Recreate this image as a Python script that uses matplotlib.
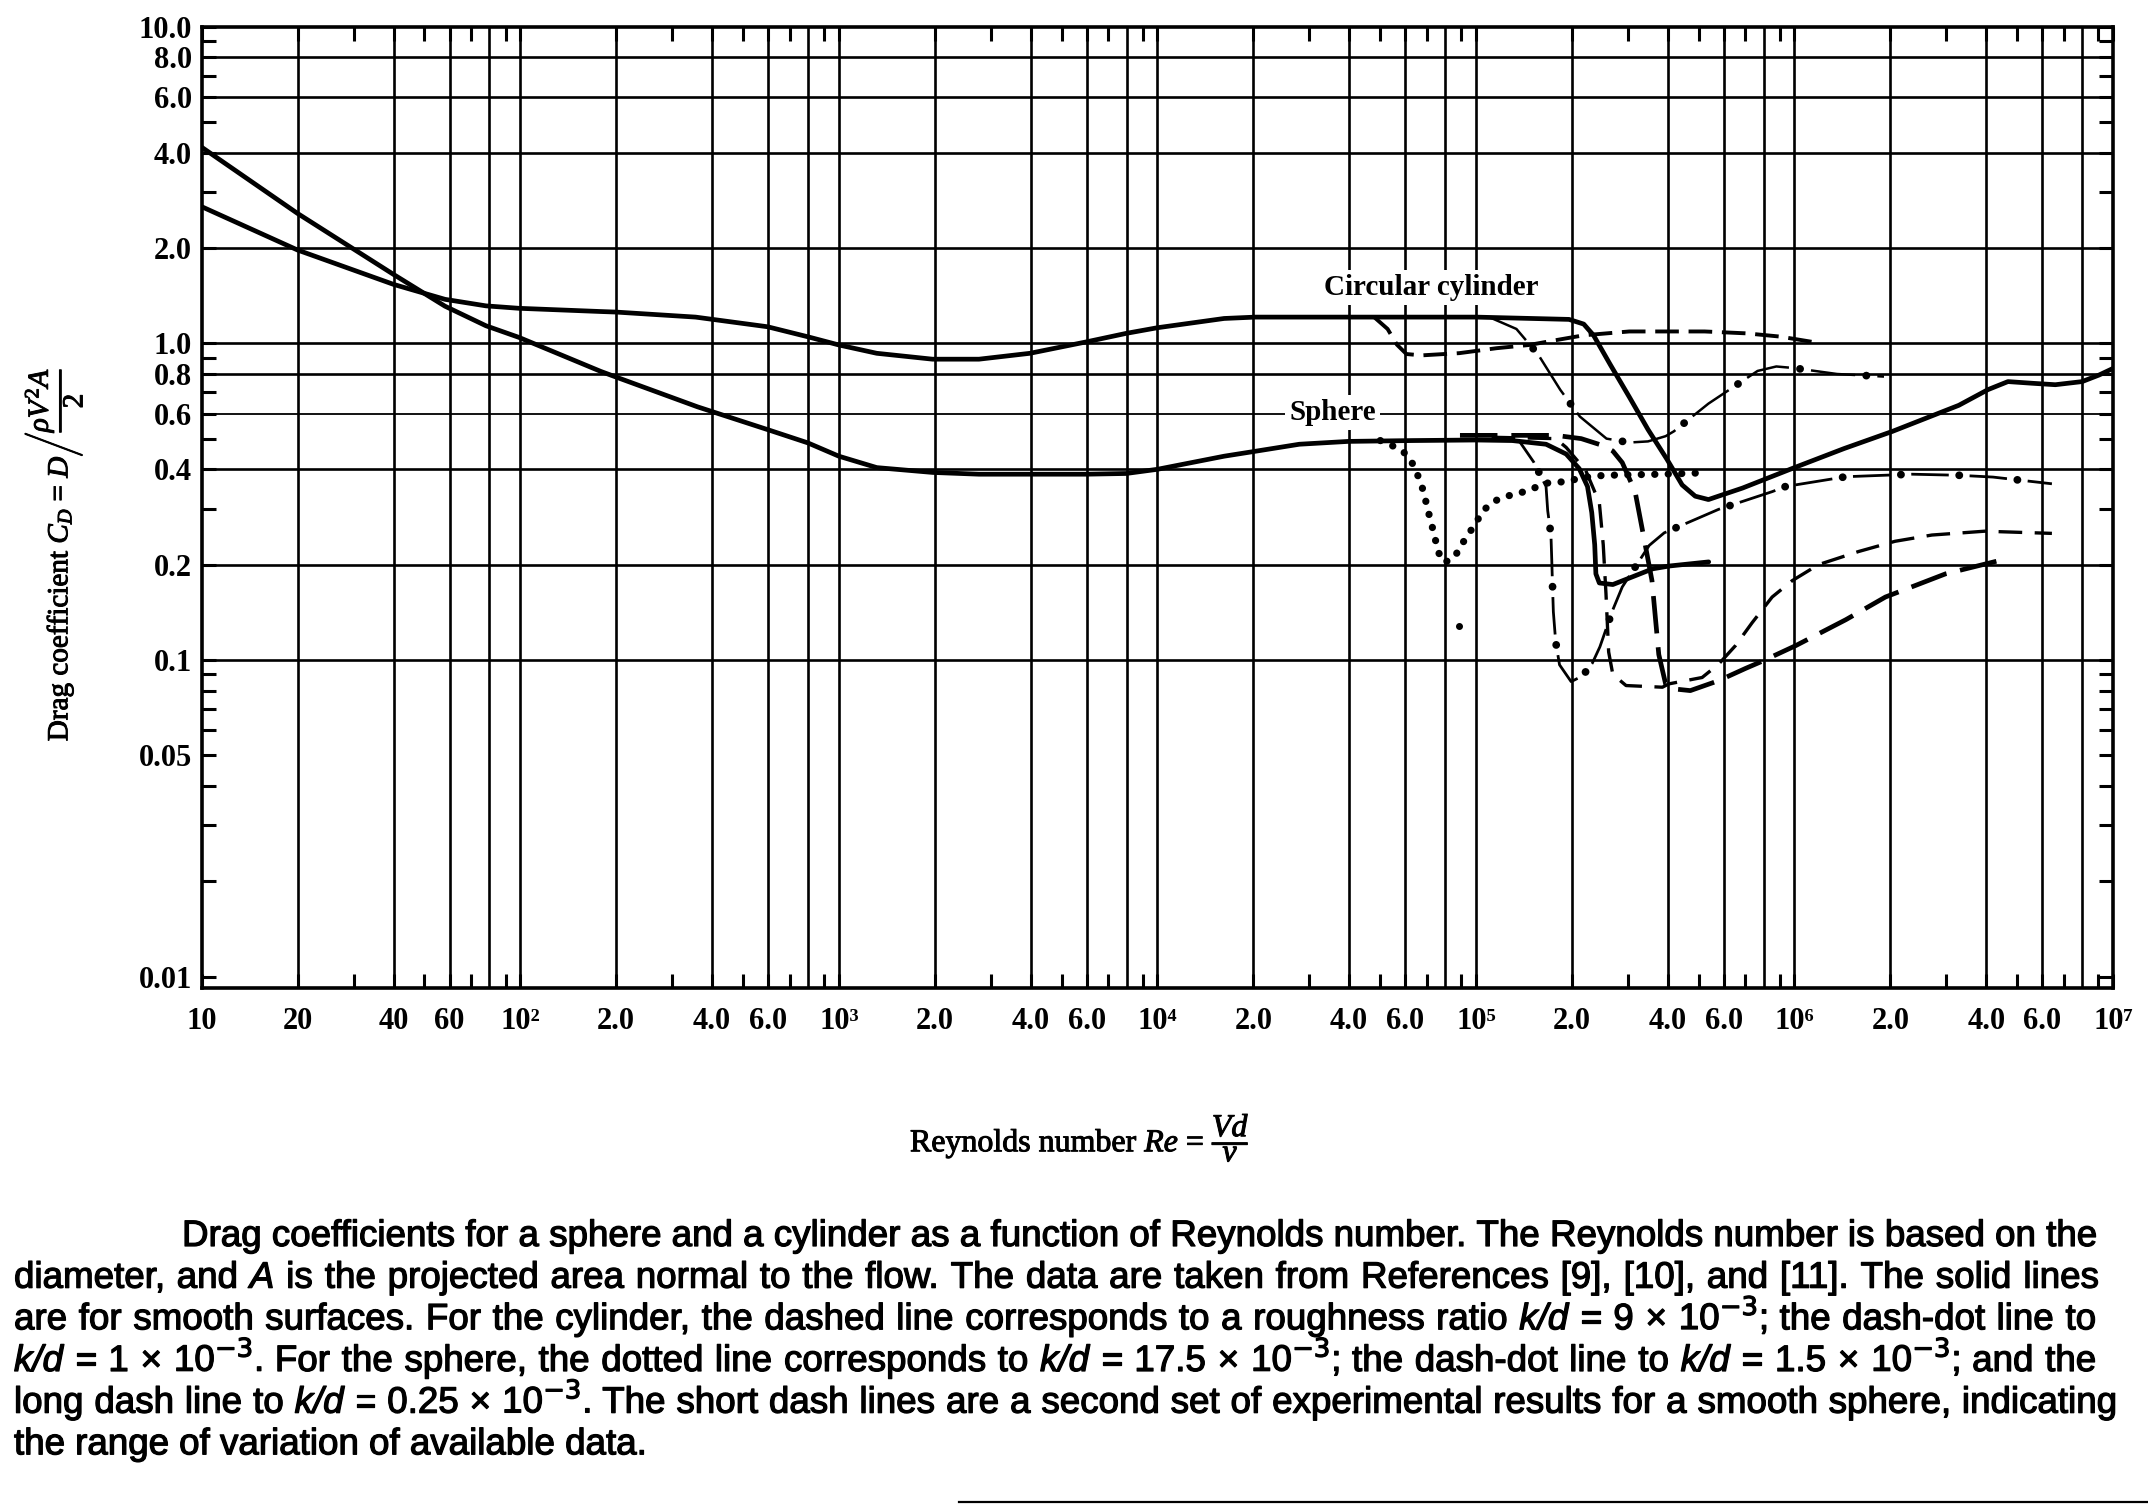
import matplotlib
matplotlib.use('Agg')
import matplotlib.pyplot as plt
from matplotlib.lines import Line2D
from matplotlib.ticker import NullFormatter, FixedLocator
from matplotlib import patheffects

plt.rcParams['mathtext.fontset'] = 'custom'
plt.rcParams['mathtext.rm'] = 'Liberation Serif'
plt.rcParams['mathtext.it'] = 'Liberation Serif:italic'
plt.rcParams['mathtext.bf'] = 'Liberation Serif:bold'
plt.rcParams['lines.scale_dashes'] = False

SERIF = ['Liberation Serif', 'DejaVu Serif']
SANS = ['Liberation Sans', 'DejaVu Sans']

# ---------------- data (Reynolds number, drag coefficient) ----------------
cyl_smooth_re = [10, 20, 40, 58, 78, 99, 179, 200, 355, 597, 798, 1000, 1315, 1968, 2754,
                 3981, 5970, 7980, 1.0e4, 1.62e4, 2.03e4, 3.98e4, 1.0e5, 1.96e5, 2.18e5,
                 2.34e5, 2.64e5, 3.03e5, 3.47e5, 3.98e5, 4.44e5, 4.88e5, 5.37e5, 5.98e5,
                 6.87e5, 1.0e6, 1.43e6, 2.03e6, 3.28e6, 4.05e6, 4.68e6, 5.56e6, 6.59e6,
                 8.0e6, 9.04e6, 1.0e7]
cyl_smooth_cd = [2.70, 1.97, 1.535, 1.377, 1.313, 1.29, 1.26, 1.255, 1.21, 1.128, 1.049,
                 0.988, 0.93, 0.891, 0.891, 0.93, 1.01, 1.075, 1.12, 1.198, 1.21, 1.21,
                 1.21, 1.19, 1.15, 1.06, 0.857, 0.677, 0.534, 0.43, 0.357, 0.329, 0.321,
                 0.333, 0.349, 0.405, 0.465, 0.527, 0.637, 0.714, 0.757, 0.748, 0.74,
                 0.757, 0.794, 0.833]

cyl_dash_re = [4.79e4, 5.28e4, 5.65e4, 6.05e4, 6.75e4, 8.87e4, 1.16e5, 1.47e5, 1.75e5,
               2.18e5, 3.03e5, 5.22e5, 7.08e5, 9.02e5, 1.14e6]
cyl_dash_cd = [1.21, 1.11, 0.99, 0.925, 0.916, 0.931, 0.965, 0.988, 1.02, 1.06, 1.09,
               1.09, 1.075, 1.05, 1.01]

cyl_dashdot_re = [1.10e5, 1.34e5, 1.57e5, 1.84e5, 2.12e5, 2.57e5, 3.03e5, 3.47e5, 3.94e5,
                  4.18e5, 5.37e5, 7.66e5, 8.77e5, 1.0e6, 1.36e6, 1.91e6]
cyl_dashdot_cd = [1.21, 1.11, 0.92, 0.713, 0.587, 0.50, 0.486, 0.49, 0.509, 0.527, 0.645,
                  0.818, 0.845, 0.835, 0.80, 0.785]

sph_smooth_re = [10, 20, 40, 58, 78, 99, 179, 200, 360, 597, 798, 1000, 1315, 1968, 2754,
                 3981, 5970, 7980, 1.0e4, 1.62e4, 2.0e4, 2.79e4, 3.98e4, 6.31e4, 1.0e5,
                 1.30e5, 1.66e5, 1.92e5, 2.11e5, 2.24e5, 2.31e5, 2.36e5, 2.38e5, 2.44e5,
                 2.69e5, 3.10e5, 3.59e5, 4.05e5, 5.38e5]
sph_smooth_cd = [4.16, 2.57, 1.65, 1.31, 1.136, 1.044, 0.815, 0.782, 0.63, 0.534, 0.485,
                 0.44, 0.405, 0.391, 0.386, 0.386, 0.386, 0.388, 0.40, 0.44, 0.455, 0.48,
                 0.49, 0.493, 0.495, 0.493, 0.48, 0.447, 0.402, 0.353, 0.292, 0.231,
                 0.187, 0.175, 0.173, 0.183, 0.194, 0.198, 0.204]

sph_short_re = [1.12e5, 1.78e5, 1.92e5, 2.21e5, 2.44e5, 2.51e5, 2.56e5, 2.61e5, 2.69e5,
                2.96e5, 3.85e5, 4.03e5, 5.13e5, 5.78e5, 6.53e5, 7.36e5, 8.51e5, 9.84e5,
                1.19e6, 1.59e6, 2.07e6, 2.70e6, 3.95e6, 6.43e6]
sph_short_cd = [0.505, 0.50, 0.469, 0.397, 0.314, 0.231, 0.162, 0.106, 0.090, 0.083, 0.082,
                0.084, 0.088, 0.097, 0.111, 0.131, 0.158, 0.178, 0.200, 0.220, 0.237,
                0.248, 0.255, 0.251]

sph_long_re = [8.91e4, 1.78e5, 2.14e5, 2.51e5, 2.69e5, 2.88e5, 3.16e5, 3.40e5, 3.57e5,
               3.75e5, 3.94e5, 4.18e5, 4.71e5, 5.78e5, 7.02e5, 7.91e5, 1.01e6, 1.45e6,
               1.93e6, 2.98e6, 4.31e6]
sph_long_cd = [0.512, 0.512, 0.50, 0.475, 0.457, 0.42, 0.34, 0.231, 0.178, 0.104, 0.084,
               0.081, 0.080, 0.086, 0.094, 0.099, 0.111, 0.134, 0.158, 0.187, 0.205]

sph_dashdot_re = [1.26e5, 1.37e5, 1.52e5, 1.66e5, 1.68e5, 1.72e5, 1.73e5, 1.74e5, 1.75e5,
                  1.78e5, 1.83e5, 1.99e5, 2.16e5, 2.32e5, 2.45e5, 2.69e5, 2.88e5, 3.50e5,
                  3.90e5, 5.78e5, 8.51e5, 9.38e5, 1.45e6, 2.34e6, 3.28e6, 4.20e6, 6.43e6]
sph_dashdot_cd = [0.495, 0.49, 0.421, 0.353, 0.296, 0.248, 0.207, 0.170, 0.142, 0.114,
                  0.0965, 0.0854, 0.089, 0.0977, 0.110, 0.144, 0.170, 0.23, 0.252, 0.299,
                  0.340, 0.353, 0.379, 0.386, 0.383, 0.378, 0.36]

sph_dotted_re = [5.01e4, 5.35e4, 5.89e4, 6.25e4, 6.52e4, 6.76e4, 6.93e4, 7.10e4, 7.28e4,
                 7.45e4, 7.62e4, 7.94e4, 8.55e4, 8.93e4, 9.46e4, 1.0e5, 1.05e5, 1.13e5,
                 1.25e5, 1.38e5, 1.52e5, 1.68e5, 1.86e5, 2.06e5, 2.32e5, 2.82e5, 3.85e5,
                 5.25e5]
sph_dotted_cd = [0.493, 0.48, 0.457, 0.427, 0.39, 0.355, 0.323, 0.292, 0.265, 0.241, 0.219,
                 0.203, 0.21, 0.228, 0.249, 0.271, 0.295, 0.316, 0.329, 0.337, 0.349,
                 0.362, 0.365, 0.372, 0.381, 0.384, 0.386, 0.39]

stray_dot_re = [8.83e4]
stray_dot_cd = [0.128]

# axis ticks
x_grid = [m * 10 ** d for d in range(1, 7) for m in (1, 2, 4, 6, 8)][1:]
x_minor = [m * 10 ** d for d in range(1, 7) for m in (3, 5, 7, 9)]
x_tick_vals = [10, 20, 40, 60, 1e2, 2e2, 4e2, 6e2, 1e3, 2e3, 4e3, 6e3, 1e4, 2e4, 4e4, 6e4,
               1e5, 2e5, 4e5, 6e5, 1e6, 2e6, 4e6, 6e6, 1e7]
x_tick_labels = ['10', '20', '40', '60', '10²', '2.0', '4.0', '6.0', '10³', '2.0', '4.0',
                 '6.0', '10⁴', '2.0', '4.0', '6.0', '10⁵', '2.0', '4.0', '6.0', '10⁶',
                 '2.0', '4.0', '6.0', '10⁷']
y_grid = [0.1, 0.2, 0.4, 0.6, 0.8, 1, 2, 4, 6, 8]
y_minor = [0.02, 0.03, 0.04, 0.06, 0.07, 0.08, 0.09, 0.3, 0.5, 0.7, 0.9, 3, 5, 7, 9]
y_tick_vals = [0.01, 0.05, 0.1, 0.2, 0.4, 0.6, 0.8, 1, 2, 4, 6, 8, 10]
y_tick_labels = ['0.01', '0.05', '0.1', '0.2', '0.4', '0.6', '0.8', '1.0', '2.0', '4.0',
                 '6.0', '8.0', '10.0']

caption_lines = [
    "Drag coefficients for a sphere and a cylinder as a function of Reynolds number. The Reynolds number is based on the",
    "diameter, and _A_ is the projected area normal to the flow. The data are taken from References [9], [10], and [11]. The solid lines",
    "are for smooth surfaces. For the cylinder, the dashed line corresponds to a roughness ratio _k/d_ = 9 × 10^-3; the dash-dot line to",
    "_k/d_ = 1 × 10^-3. For the sphere, the dotted line corresponds to _k/d_ = 17.5 × 10^-3; the dash-dot line to _k/d_ = 1.5 × 10^-3; and the",
    "long dash line to _k/d_ = 0.25 × 10^-3. The short dash lines are a second set of experimental results for a smooth sphere, indicating",
    "the range of variation of available data.",
]

# ---------------- figure ----------------
W, H = 2148, 1505
fig = plt.figure(figsize=(W / 100, H / 100), dpi=100)
fig.patch.set_facecolor('white')
ax = fig.add_axes([201.8 / W, 1 - 988 / H, (2113 - 201.8) / W, (988 - 26.7) / H])
ax.set_xscale('log')
ax.set_yscale('log')
ax.set_xlim(10, 1e7)
ax.set_ylim(0.0092, 10)

for v in x_grid:
    ax.axvline(v, color='black', lw=1.9, zorder=1)
for v in y_grid:
    ax.axhline(v, color='black', lw=1.3 if v == 0.6 else 1.9, zorder=1)

K = 'black'
solid_kw = dict(color=K, lw=3.4, solid_capstyle='round', solid_joinstyle='round', zorder=3)
ax.plot(cyl_smooth_re, cyl_smooth_cd, **solid_kw)
ax.plot(sph_smooth_re, sph_smooth_cd, **solid_kw)

ax.plot(cyl_dash_re, cyl_dash_cd, color=K, lw=2.8, ls=(0, (17, 7)), zorder=3)
ax.plot(sph_long_re, sph_long_cd, color=K, lw=3.4, ls=(0, (27, 10)), zorder=3)
ax.plot(sph_short_re, sph_short_cd, color=K, lw=2.4, ls=(0, (17, 9)), zorder=3)

ax.plot(sph_dotted_re, sph_dotted_cd, color=K, lw=5.2, ls=(0, (0.1, 9.6)),
        dash_capstyle='round', zorder=3)
ax.plot(stray_dot_re, stray_dot_cd, 'o', color=K, ms=4, zorder=3)


def dash_dot(xs, ys, lw, dash, gap, dot_lw):
    period = dash + gap
    ax.plot(xs, ys, color=K, lw=lw, ls=(0, (dash, gap)), zorder=3)
    ax.plot(xs, ys, color=K, lw=dot_lw, ls=(gap / 2.0, (0.1, period - 0.1)),
            dash_capstyle='round', zorder=3)


dash_dot(cyl_dashdot_re, cyl_dashdot_cd, 1.8, 32, 16, 5.6)
dash_dot(sph_dashdot_re, sph_dashdot_cd, 2.0, 27, 15, 5.6)

# labels on curves
ax.text(10 ** 4.86, 1.50, 'Circular cylinder', ha='center', va='center', fontsize=21,
        fontweight='bold', family=SERIF, zorder=4,
        bbox=dict(fc='white', ec='none', pad=3))
ax.text(10 ** 4.55, 0.605, 'Sphere', ha='center', va='center', fontsize=21,
        fontweight='bold', family=SERIF, zorder=4,
        bbox=dict(fc='white', ec='none', pad=3))

# ticks
ax.xaxis.set_major_locator(FixedLocator(x_tick_vals))
ax.xaxis.set_minor_locator(FixedLocator(x_minor))
ax.yaxis.set_major_locator(FixedLocator(y_tick_vals))
ax.yaxis.set_minor_locator(FixedLocator(y_minor))
ax.set_xticklabels(x_tick_labels)
ax.set_yticklabels(y_tick_labels)
ax.xaxis.set_minor_formatter(NullFormatter())
ax.yaxis.set_minor_formatter(NullFormatter())
for lab in ax.get_xticklabels() + ax.get_yticklabels():
    lab.set_family(SERIF)
    lab.set_fontweight('bold')
    lab.set_fontsize(22)
ax.tick_params(axis='both', which='both', direction='in', top=True, right=True,
               length=10, width=2.2, color=K)
ax.tick_params(axis='x', which='major', pad=14)
ax.tick_params(axis='y', which='major', pad=7)
for s in ax.spines.values():
    s.set_linewidth(2.6)
    s.set_zorder(5)

# axis titles
heavy = [patheffects.withStroke(linewidth=0.7, foreground='black')]
fig.text(52 / W, 1 - 555 / H,
         r'Drag coefficient $C_D$ = $D\left/\dfrac{\rho V^2 A}{2}\right.$',
         rotation=90, ha='center', va='center', fontsize=21, family=SERIF,
         path_effects=heavy)
fig.text(1080 / W, 1 - 1137 / H, r'Reynolds number $Re$ = $\dfrac{Vd}{\nu}$',
         ha='center', va='center', fontsize=23, family=SERIF, path_effects=heavy)

# ---------------- caption (justified) ----------------
renderer = fig.canvas.get_renderer()


def token_text(tok):
    if tok.startswith('_'):
        end = tok.rfind('_')
        core = tok[1:end]
        tail = tok[end + 1:]
        return [(core, True), (tail, False)] if tail else [(core, True)]
    if '^-3' in tok:
        return [(tok.replace('^-3', '$^{-3}$'), False)]
    return [(tok, False)]


def make_text(x, y, s, italic, fs, pe=None):
    return fig.text(x / W, 1 - y / H, s, fontsize=fs, family=SANS,
                    style='italic' if italic else 'normal', ha='left', va='baseline',
                    math_fontfamily='dejavusans', path_effects=pe)


def width_of(s, italic, fs):
    t = make_text(0, 0, s, italic, fs)
    w = t.get_window_extent(renderer).width
    t.remove()
    return w


line_left = [182, 14, 14, 14, 14, 14]
line_right = [2097, 2099, 2096, 2096, 2117, None]
line_centers = [1235, 1276.7, 1318.3, 1360, 1401.7, 1443.3]

fs0 = 20.0
space0 = width_of('x x', False, fs0) - width_of('xx', False, fs0)
ratios = []
for i, line in enumerate(caption_lines):
    if line_right[i] is None:
        continue
    words = line.split(' ')
    tot = 0
    for wd in words:
        for s, it in token_text(wd):
            tot += width_of(s, it, fs0)
    tot += space0 * (len(words) - 1)
    ratios.append((line_right[i] - line_left[i]) / tot)
fs = fs0 * min(ratios) * 0.998

cap_pe = [patheffects.withStroke(linewidth=0.9, foreground='black')]
for i, line in enumerate(caption_lines):
    words = line.split(' ')
    pieces = []
    for wd in words:
        parts = token_text(wd)
        pieces.append([(s, it, width_of(s, it, fs)) for s, it in parts])
    word_w = [sum(p[2] for p in pc) for pc in pieces]
    if line_right[i] is None:
        gap = width_of('x x', False, fs) - width_of('xx', False, fs)
    else:
        gap = (line_right[i] - line_left[i] - sum(word_w)) / (len(words) - 1)
    x = line_left[i]
    yb = line_centers[i] + 11
    for pc, ww in zip(pieces, word_w):
        xx = x
        for s, it, w in pc:
            make_text(xx, yb, s, it, fs, pe=cap_pe)
            xx += w
        x += ww + gap

fig.add_artist(Line2D([959 / W, 1.0], [1 - 1502 / H, 1 - 1502 / H], color=K, lw=1.6))

fig.savefig('out.png', dpi=100, facecolor='white')
